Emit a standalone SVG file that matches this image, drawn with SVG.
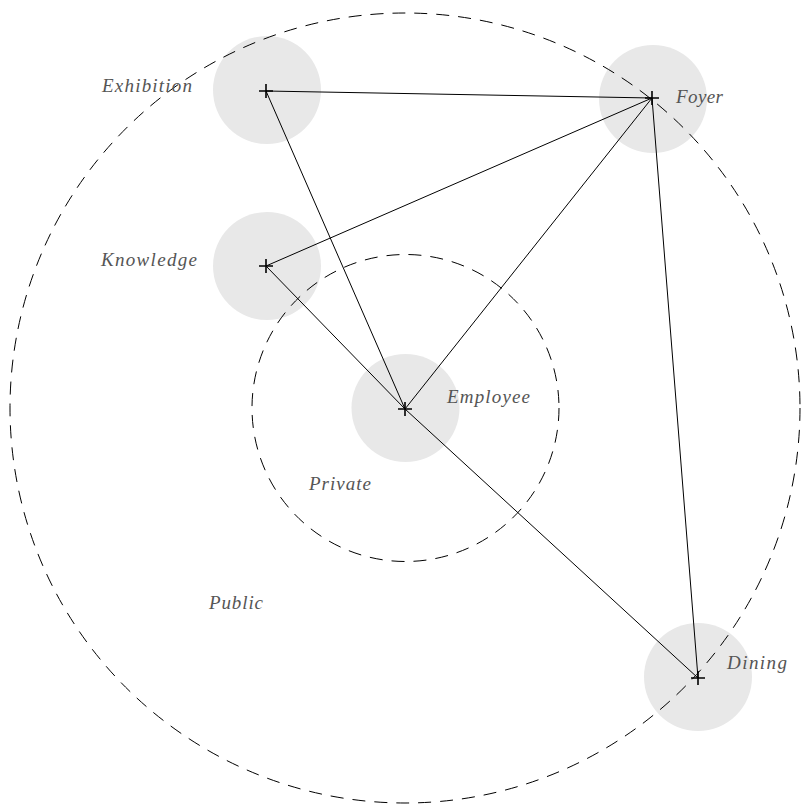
<svg xmlns="http://www.w3.org/2000/svg" width="801" height="805" viewBox="0 0 801 805">
<style>
.zone{fill:none;stroke:#000;stroke-width:1;stroke-dasharray:13 9}
.node{fill:#e8e8e8}
.cross{stroke:#000;stroke-width:1.6;fill:none}
.edge{stroke:#000;stroke-width:1;fill:none}
.lbl{font-family:"Liberation Serif","DejaVu Serif",serif;font-style:italic;font-size:19px;fill:#555}
</style>
<rect width="801" height="805" fill="#fff"/>
<g id="nodes-bg">
<circle class="node" cx="267" cy="90" r="54"/>
<circle class="node" cx="653" cy="99" r="54"/>
<circle class="node" cx="267" cy="266" r="54"/>
<circle class="node" cx="405.5" cy="408" r="54"/>
<circle class="node" cx="698" cy="677" r="54"/>
</g>
<g id="zones">
<circle id="public" class="zone" cx="405" cy="408" r="395"/>
<circle id="private" class="zone" cx="405.5" cy="408" r="153.5"/>
</g>
<g id="connectors">
<line class="edge" x1="266" y1="91" x2="652" y2="98"/>
<line class="edge" x1="266" y1="91" x2="405" y2="409"/>
<line class="edge" x1="266" y1="266" x2="652" y2="98"/>
<line class="edge" x1="266" y1="266" x2="405" y2="409"/>
<line class="edge" x1="405" y1="409" x2="652" y2="98"/>
<line class="edge" x1="405" y1="409" x2="698" y2="678"/>
<line class="edge" x1="652" y1="98" x2="698" y2="678"/>
</g>
<g id="exhibition">
<path class="cross" d="M259 91H273M266 84V98"/>
<text class="lbl" x="102" y="92" textLength="90">Exhibition</text>
</g>
<g id="foyer">
<path class="cross" d="M645 98H659M652 91V105"/>
<text class="lbl" x="676" y="103" textLength="47">Foyer</text>
</g>
<g id="knowledge">
<path class="cross" d="M259 266H273M266 259V273"/>
<text class="lbl" x="101" y="266" textLength="96">Knowledge</text>
</g>
<g id="employee">
<path class="cross" d="M398 409H412M405 402V416"/>
<text class="lbl" x="447" y="403" textLength="83">Employee</text>
</g>
<g id="dining">
<path class="cross" d="M691 678H705M698 671V685"/>
<text class="lbl" x="727" y="669" textLength="60">Dining</text>
</g>
<g id="zone-labels">
<text class="lbl" x="309" y="490" textLength="62">Private</text>
<text class="lbl" x="209" y="609" textLength="54">Public</text>
</g>
</svg>
